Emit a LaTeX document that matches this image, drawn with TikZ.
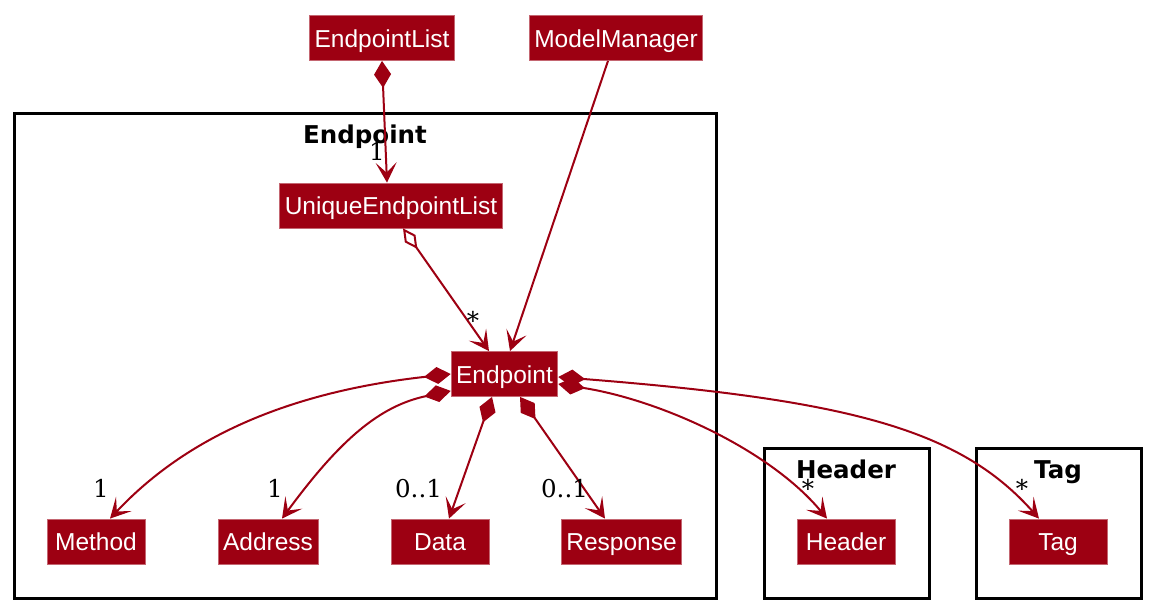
\documentclass[tikz,border=0pt]{standalone}
\usepackage{fontspec}
\setmainfont{DejaVu Serif}
\newfontfamily\clsface{Liberation Sans}
\newfontfamily\pkgface{DejaVu Sans}
\usetikzlibrary{arrows.meta,calc}
\definecolor{modelred}{HTML}{9D0012}
\tikzset{>={Stealth[length=20pt,width=21pt,inset=10pt]}}
\tikzset{
  cls/.style={fill=modelred, draw=modelred!60!white, line width=0.8pt, text=white,
    font=\clsface\fontsize{24.5pt}{28pt}\selectfont, minimum height=45pt, minimum width=98pt,
    inner xsep=5pt, inner ysep=0pt, text height=20pt, text depth=2pt},
  pkg/.style={draw=black, line width=3pt},
  pkgtitle/.style={anchor=base, inner sep=0pt, font=\pkgface\bfseries\fontsize{24.5pt}{28pt}\selectfont},
  mult/.style={anchor=base, inner sep=0pt, font=\fontsize{24.5pt}{28pt}\selectfont},
  link/.style={draw=modelred, line width=2pt},
  comp/.style={link, {Diamond[length=27pt,width=17pt]}->},
  aggr/.style={link, {Diamond[open,length=25pt,width=13pt]}->},
}

\begin{document}
\begin{tikzpicture}[x=1pt, y=-1pt]
  \useasboundingbox (0,0) rectangle (1150,608);

  % packages
  \draw[pkg] (14,113) rectangle (716,598);
  \node[pkgtitle] (pep) at (365,143) {Endpoint};
  \draw[pkg] (764,448) rectangle (929,598);
  \node[pkgtitle] (phdr) at (846,478) {Header};
  \draw[pkg] (976,448) rectangle (1141,598);
  \node[pkgtitle] (ptag) at (1058,478) {Tag};

  % classes
  \node[cls] (el) at (382,38) {EndpointList};
  \node[cls] (mm) at (616,38) {ModelManager};
  \node[cls] (uel) at (391,205.5) {UniqueEndpointList};
  \node[cls] (ep) at (504.5,374) {Endpoint};
  \node[cls] (meth) at (96,541.5) {Method};
  \node[cls] (addr) at (268,541.5) {Address};
  \node[cls] (data) at (440,541.5) {Data};
  \node[cls] (resp) at (621.5,541.5) {Response};
  \node[cls] (hdr) at (846,541.5) {Header};
  \node[cls] (tag) at (1058,541.5) {Tag};

  \draw[comp] (el.south) -- ([xshift=-4pt]uel.north); % el->uel
  \draw[aggr] ([xshift=12pt]uel.south) -- ([xshift=-15.5pt]ep.north); % uel->ep
  \draw[link,->] ([xshift=-8pt]mm.south) -- ([xshift=5.5pt]ep.north); % mm->ep

  \draw[comp] (ep.west) .. controls +(-190,21) and +(60,-64) .. ([xshift=14pt]meth.north); % ep->meth
  \draw[comp] ([yshift=6pt]ep.south west) .. controls +(-71,15) and +(58,-79) .. ([xshift=14pt]addr.north); % ep->addr
  \draw[comp] ([xshift=-12.5pt]ep.south) -- ([xshift=9pt]data.north); % ep->data
  \draw[comp] ([xshift=15.5pt]ep.south) -- ([xshift=-16.5pt]resp.north); % ep->resp
  \draw[comp] ($(ep.east)+(0,10)$) .. controls +(102,16) and +(-57,-69) .. ([xshift=-19pt]hdr.north); % ep->hdr
  \draw[comp] ($(ep.east)+(0,3)$) .. controls +(292,23) and +(-79,-89) .. ([xshift=-19pt]tag.north); % ep->tag

  % multiplicities
  \node[mult] (m-uel) at (377,160) {1};
  \node[mult] (m-ep) at (473,329) {*};
  \node[mult] (m-meth) at (101,497) {1};
  \node[mult] (m-addr) at (275,497) {1};
  \node[mult] (m-data) at (418.5,497) {0..1};
  \node[mult] (m-resp) at (564.5,497) {0..1};
  \node[mult] (m-hdr) at (808,497) {*};
  \node[mult] (m-tag) at (1022,497) {*};
\end{tikzpicture}
\end{document}
